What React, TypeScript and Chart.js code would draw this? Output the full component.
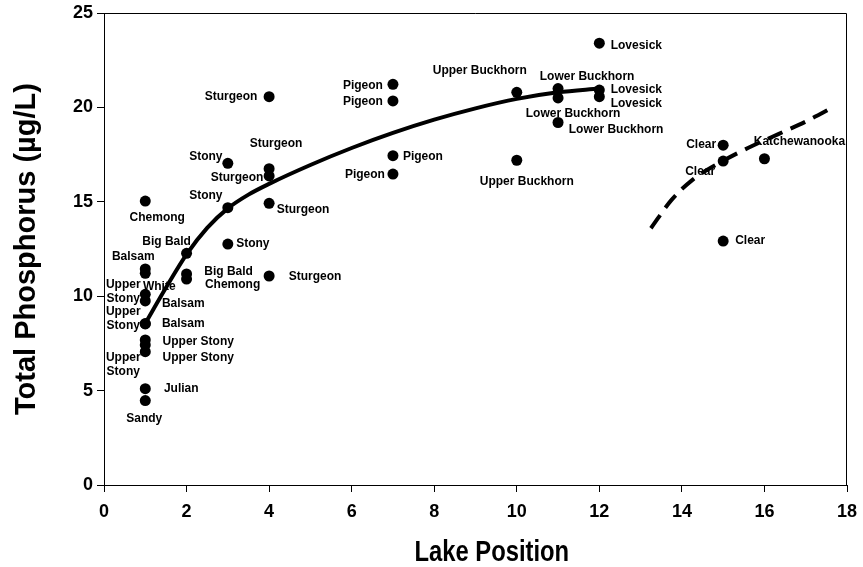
import React, { useEffect, useRef } from "react";
import { Chart, registerables } from "chart.js";

Chart.register(...registerables);

// ---- Data ----
const lakePosition = [
  1, 1, 1, 1, 1, 1, 1, 1, 1, 1, 1, 1,
  2, 2, 2,
  3, 3, 3,
  4, 4, 4, 4, 4,
  7, 7, 7, 7,
  10, 10,
  11, 11, 11,
  12, 12, 12,
  15, 15, 15,
  16,
];
const totalPhosphorus = [
  15.04, 11.44, 11.21, 10.1, 9.75, 8.55, 8.53, 7.68, 7.42, 7.06, 5.1, 4.47,
  12.27, 11.18, 10.91,
  17.04, 14.69, 12.76,
  20.57, 16.75, 16.37, 14.92, 11.07,
  21.22, 20.34, 17.44, 16.47,
  20.8, 17.2,
  21.0, 20.5, 19.2,
  23.4, 20.92, 20.57,
  18.0, 17.16, 12.92,
  17.28,
];
const lakeNames = [
  "Chemong", "Balsam", "White", "Upper\nStony", "Balsam", "Upper\nStony", "Balsam",
  "Upper Stony", "Upper\nStony", "Upper Stony", "Julian", "Sandy",
  "Big Bald", "Big Bald", "Chemong",
  "Stony", "Stony", "Stony",
  "Sturgeon", "Sturgeon", "Sturgeon", "Sturgeon", "Sturgeon",
  "Pigeon", "Pigeon", "Pigeon", "Pigeon",
  "Upper Buckhorn", "Upper Buckhorn",
  "Lower Buckhorn", "Lower Buckhorn", "Lower Buckhorn",
  "Lovesick", "Lovesick", "Lovesick",
  "Clear", "Clear", "Clear",
  "Katchewanooka",
];

// Fitted trend (solid)
const trendX = [1, 1.5, 2, 2.5, 3, 3.5, 4, 5, 6, 7, 8, 9, 10, 11, 12];
const trendY = [8.56, 10.45, 12.22, 13.62, 14.65, 15.38, 15.95, 16.95, 17.85, 18.65, 19.35, 19.95, 20.45, 20.8, 21.0];

// Fitted trend (dashed)
const dashX = [13.25, 13.75, 14.25, 14.9, 15.6, 16.35, 17.0, 17.7];
const dashY = [13.6, 15.1, 16.15, 17.05, 17.85, 18.6, 19.25, 20.05];

// Axis ticks
const xTicks = [0, 2, 4, 6, 8, 10, 12, 14, 16, 18];
const yTicks = [0, 5, 10, 15, 20, 25];

const xTitle = "Lake Position";
const yTitle = "Total Phosphorus (µg/L)";

// ---- Label placement (pixel offsets of text centre from its point) ----
const labelOffsets: [number, number][] = [
  [12, 17], [-12, -12], [14, 13], [-22, -10], [38, 3], [-22, -12], [38, 0],
  [53, 2], [-22, 13], [53, 6], [36, 0], [-1, 18],
  [-20, -12], [42, -2], [46, 6],
  [-22, -7], [-22, -12], [25, 0],
  [-38, 0], [7, -25], [-32, 2], [34, 6], [46, 1],
  [-30, 1], [-30, 1], [30, 1], [-28, 1],
  [-37, -22], [10, 21],
  [29, -12], [15, 16], [58, 7],
  [37, 2], [37, 0], [37, 7],
  [-22, 0], [-23, 11], [27, 0],
  [35, -17],
];

const SANS = "'Liberation Sans', Arial, Helvetica, sans-serif";

const labelPlugin = {
  id: "pointLabels",
  afterDatasetsDraw(chart: any) {
    const ctx = chart.ctx;
    const meta = chart.getDatasetMeta(2);
    ctx.save();
    ctx.font = `bold 12px ${SANS}`;
    ctx.fillStyle = "#000";
    ctx.textAlign = "center";
    ctx.textBaseline = "middle";
    meta.data.forEach((el: any, i: number) => {
      const [dx, dy] = labelOffsets[i] || [0, 0];
      const lines = lakeNames[i].split("\n");
      lines.forEach((ln, j) => ctx.fillText(ln, el.x + dx, el.y + dy + j * 14));
    });
    ctx.restore();
  },
};

// Plot-area frame (top and right sides) and the condensed x-axis title
const framePlugin = {
  id: "frame",
  afterDraw(chart: any) {
    const { ctx, chartArea } = chart;
    ctx.save();
    ctx.strokeStyle = "#000";
    ctx.lineWidth = 1;
    ctx.beginPath();
    ctx.moveTo(chartArea.left, chartArea.top + 0.5);
    ctx.lineTo(chartArea.right - 0.5, chartArea.top + 0.5);
    ctx.lineTo(chartArea.right - 0.5, chartArea.bottom);
    ctx.stroke();

    ctx.font = `bold 29px ${SANS}`;
    ctx.fillStyle = "#000";
    ctx.textAlign = "center";
    ctx.textBaseline = "middle";
    ctx.translate(chartArea.left + (chartArea.right - chartArea.left) * 0.522, 553);
    ctx.scale(0.82, 1);
    ctx.fillText(xTitle, 0, 0);
    ctx.restore();
  },
};

export default function App() {
  const ref = useRef<HTMLCanvasElement | null>(null);

  useEffect(() => {
    if (!ref.current) return;
    const chart = new Chart(ref.current, {
      type: "scatter",
      data: {
        datasets: [
          {
            label: "Trend",
            data: trendX.map((x, i) => ({ x, y: trendY[i] })),
            showLine: true,
            borderColor: "#000",
            borderWidth: 4,
            pointRadius: 0,
            cubicInterpolationMode: "monotone",
            fill: false,
          },
          {
            label: "Trend 2",
            data: dashX.map((x, i) => ({ x, y: dashY[i] })),
            showLine: true,
            borderColor: "#000",
            borderWidth: 4,
            borderDash: [16, 9],
            pointRadius: 0,
            cubicInterpolationMode: "monotone",
            fill: false,
          },
          {
            label: "Lakes",
            data: lakePosition.map((x, i) => ({ x, y: totalPhosphorus[i] })),
            backgroundColor: "#000",
            borderColor: "#000",
            pointRadius: 5.5,
            borderWidth: 0,
          },
        ],
      },
      options: {
        responsive: false,
        animation: false,
        layout: { padding: { left: 0, top: 13, right: 16, bottom: 0 } },
        plugins: {
          legend: { display: false },
          tooltip: { enabled: false },
        },
        scales: {
          x: {
            type: "linear",
            min: 0,
            max: 18,
            afterFit: (s: any) => { s.height = 82; s.paddingLeft = 0; s.paddingRight = 0; },
            afterBuildTicks: (s: any) => { s.ticks = xTicks.map((v) => ({ value: v })); },
            grid: { display: true, drawOnChartArea: false, drawTicks: true, tickLength: 7, color: "#000", lineWidth: 1 },
            border: { display: true, color: "#000", width: 1 },
            ticks: { color: "#000", padding: 9, maxRotation: 0, font: { family: SANS, size: 18, weight: "bold" } },
            title: { display: false, text: xTitle },
          },
          y: {
            type: "linear",
            min: 0,
            max: 25,
            afterFit: (s: any) => { s.width = 104; s.paddingTop = 0; s.paddingBottom = 0; },
            afterBuildTicks: (s: any) => { s.ticks = yTicks.map((v) => ({ value: v })); },
            grid: { display: true, drawOnChartArea: false, drawTicks: true, tickLength: 7, color: "#000", lineWidth: 1 },
            border: { display: true, color: "#000", width: 1 },
            ticks: { color: "#000", padding: 4, font: { family: SANS, size: 18, weight: "bold" } },
            title: {
              display: true,
              text: yTitle,
              color: "#000",
              padding: { top: 12.5, bottom: 0 },
              font: { family: SANS, size: 29, weight: "bold", lineHeight: 1 },
            },
          },
        },
      },
      plugins: [labelPlugin, framePlugin],
    });
    return () => chart.destroy();
  }, []);

  return (
    <div style={{ position: "fixed", left: 0, top: 0, width: 863, height: 567, background: "#fff" }}>
      <canvas ref={ref} width={863} height={567} />
    </div>
  );
}
